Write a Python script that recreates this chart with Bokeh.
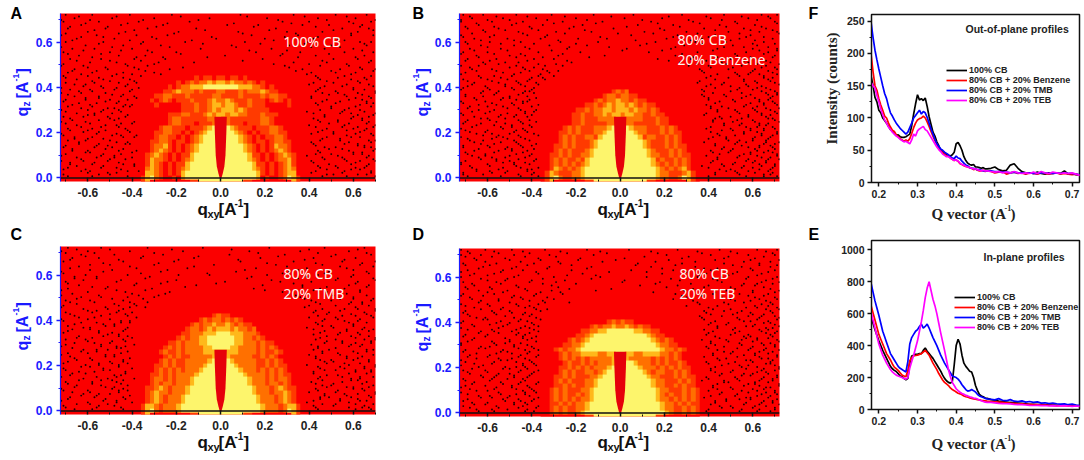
import math
import numpy as np
from bokeh.embed import file_html
from bokeh.layouts import column, row
from bokeh.models import FixedTicker, Label, Legend, LegendItem, LinearColorMapper, Span
from bokeh.plotting import figure
from bokeh.resources import INLINE

# scattering maps: one row per qz (0.46 down to -0.02), cells 0.02 wide, centred on qxy = 0
# . red, o dark orange, O orange, y amber, Y pale yellow
map_a = [
    "",
    "o.oo.oo.oo.o",
    "o.oOoOOyOyyOyOOoOo.o",
    "o.oOOyyyYYYYYYYYyyyOOo.o",
    "ooOyOOOoOoooOOoooOoOOOyOoo",
    ".ooOOoooOoooooOOooooOooooOoOOoo.",
    "..o.oOo.oooOoooOyOOyOoooOooo.oOo.o..",
    "...o.....oooOooOyyOyyOooOooo.....o..",
    ".........oooOooOyOyyyOyOooooo.......",
    "......oooOOoooOyOyyOyyOOoooOooo.....",
    "......oOOooooooOOyOOoooooooOOo......",
    ".....oOOooo.oooOOOOooo.oooOOo.....",
    "....oOOooo.oooOyYYYYyOooo.oooOOo....",
    "...ooOOoo.o.oOyYYYYYYyOo.o.ooOOoo...",
    "...oOOoo.o.oOyYYYYYYYYyOo.o.ooOOo...",
    "..ooOOo.oo.oOyYYYYYYYYyOo.oo.oOOoo..",
    "..oOOyo.o.oOyYYYYYYYYYYyOo.o.oyOOo..",
    "..oOyOo.o.oOyYYYYYYYYYYyOo.o.oOyOo..",
    ".oOyOo.o.ooyYYYYYYYYYYYYyoo.o.oOyOo.",
    ".oyOOo.o.oOyYYYYYYYYYYYYyOo.o.oOOyo.",
    ".oyOo.o.ooyYYYYYYYYYYYYYYyoo.o.oOyo.",
    ".OyOo.o.oOyYYYYYYYYYYYYYYyOo.o.oOyO.",
    ".yyOo.o.oyYYYYYYYYYYYYYYYYyo.o.oOyy.",
    "oyYOo..o.yYYYYYYYYYYYYYYYYy.o..oOYyo",
    "oy.........ooYYYYYYYYYYoo.........yo",
]
map_b = [
    "",
    "",
    "",
    "",
    "oOoO",
    "oOOoOOoo",
    "oOoOOyOOoOoo",
    "ooOoOyOyyOyOoOoo",
    "ooOoOOyyOyyyOyOOoOo",
    "ooOooOOyOyyOyyOOooOoo",
    "ooOoooOOOOyOOOOOoooOoo",
    "ooOoooooOOOOOOoooooOoo",
    ".....oOoOoooOOOyYYYYyOOOoooOoOo.....",
    "....ooOoOoooOOyYYYYYYyOOoooOoOoo....",
    "....oOoOooOOoyYYYYYYYYyoOOooOoOo....",
    "....oOoOoooOyYYYYYYYYYYyOoooOoOo....",
    "...ooOoOoooOyYYYYYYYYYYyOoooOoOoo...",
    "...oOoOoooOyYYYYYYYYYYYYyOoooOoOo...",
    "..ooOoOooOOyYYYYYYYYYYYYyOOooOoOoo..",
    "..oOoOooOoyYYYYYYYYYYYYYYyoOooOoOo..",
    "..oOoOoOoOyYYYYYYYYYYYYYYyOoOoOoOo..",
    "..oyOoOoOyYYYYYYYYYYYYYYYYyOoOoOyo..",
    ".oyOoooOOyYYYYYYYYYYYYYYYYyOOoooOyo.",
    ".oyYOooOOyYYYYYYYYYYYYYYYYyOOooOYyo.",
    ".oy.......ooYYYYYYYYYYYYoo.......yo.",
]
map_c = [
    "",
    "",
    "oOoo",
    "oOoOOoOoOo",
    "oOoOOyOOyOoOoo",
    "oOOoOyOyyyOyOOoO",
    "ooOOOyyyYYYyyyOOOo",
    "oOoOOyyYYYYYYyyOOoOo",
    "ooOoOOOyyYYYYYYyyOOOoOoo",
    "oOoOoOOOOyyYYYYyyOOOOoOoOo",
    "oOooOoOOOOyyyyyyyyOOOOoOooOo",
    ".oOoOooOOOOOyyyyOOOOOooOoOo.",
    "....oOoOooOOOOOyYYYYyOOOOOooOoOo....",
    "...ooOoOooOOOOyYYYYYYyOOOOooOoOoo...",
    "...oOoOoOoOOOyYYYYYYYYyOOOoOoOoOo...",
    "..ooOoOoOOOOyYYYYYYYYYYyOOOOoOoOoo..",
    "..oOOoOoOOOyYYYYYYYYYYYYyOOOoOoOOo..",
    "..oOoOOoOOOyYYYYYYYYYYYYyOOOoOOoOo..",
    ".ooOyOoOOOyYYYYYYYYYYYYYYyOOOoOyOoo.",
    ".oOyOOoOOOyYYYYYYYYYYYYYYyOOOoOOyOo.",
    ".oOyOoOOOyYYYYYYYYYYYYYYYYyOOOoOyOo.",
    ".oOyOoOOOyYYYYYYYYYYYYYYYYyOOOoOyOo.",
    "oyyOoOOOyYYYYYYYYYYYYYYYYYYyOOOoOyyo",
    "oyYOoOOOyYYYYYYYYYYYYYYYYYYyOOOoOYyo",
    "oy.........ooYYYYYYYYYYoo.........yo",
]
map_d = [
    "",
    "",
    "",
    "oOoOoo",
    "oOoOOyOOyOoOoo",
    "ooOOyyYYYYYYyyOOoo",
    "ooOyYYYYYYYYYYYYyOoo",
    "oOoOyYYYYYYYYYYYYYYyOoOo",
    "ooOOyYYYYYYYYYYYYYYYYyOOoo",
    "oOoOOyYYYYYYYYYYYYYYYYYYyOOoOo",
    ".oOoOOyyyyOOyyYYyyOOyyyyOOoOo.",
    "oOoOoOoOOOOOyyyyOOOOOoOoOoOo",
    ".....oOooOoOoOOOyYYYYyOOOoOoOooOo...",
    "....ooOoOoOoOOOyYYYYYYyOOOoOoOoOoo..",
    "....oOoOooOOoOyYYYYYYYYyOoOOooOoOo..",
    "...ooOoOoooOOyYYYYYYYYYYyOOoooOoOoo.",
    "...oOoOoooOOyYYYYYYYYYYYYyOOoooOoOo.",
    "...ooOoOooOOyYYYYYYYYYYYYyOOooOoOoo.",
    "..oOoOoooOOyYYYYYYYYYYYYYYyOOoooOoOo",
    "..oOoOooOoOyYYYYYYYYYYYYYYyOoOooOoOo",
    "..oOoOoOoOOyYYYYYYYYYYYYYYyOOoOoOoOo",
    "..ooOoOoOOyYYYYYYYYYYYYYYYYyOOoOoOoo",
    "..oOoOooOOyYYYYYYYYYYYYYYYYyOOooOoOo",
    "..oOoOooOyYYYYYYYYYYYYYYYYYYyOooOoOo",
    "..........ooYYYYYYYYYYYYYYoo........",
]

# beam stop outline (half width at each qz)
stop_qz = [0.27, 0.2, 0.1, 0.05, 0.02, 0.0]
stop_half = [0.028, 0.026, 0.022, 0.017, 0.01, 0.004]

# black specks, in hundredths of qxy, one row per qz from 0.72 down in steps of 0.015
dots_a = [
    [-70,-58,-41,-22,9,33,52,66],[-66,-49,-30,-5,21,44,61],[-71,-55,-37,-14,28,40,58,68],[-63,-45,-26,3,17,37,49,64],
    [-69,-52,-33,-11,25,55,67],[-60,-43,-19,8,30,46,62],[-72,-56,-38,-24,14,35,59,69],[-65,-48,-29,-2,20,42,53],
    [-70,-53,-35,-16,11,39,63,68],[-61,-44,-27,5,31,50,66],[-67,-57,-40,-9,23,47,60],[-71,-50,-31,-20,16,36,56,69],
    [-64,-46,-34,2,27,43,65],[-68,-54,-39,-25,19,51,62],[-59,-47,-28,-12,33,48,67],[-72,-62,-42,-33,29,45,58],
    [-66,-51,-37,-23,37,54,64,70],[-69,-58,-44,-30,41,52,61],[-71,-60,-49,-36,43,56,68],[-65,-53,-41,45,59,66],
    [-70,-57,-46,-38,42,51,63],[-62,-54,-43,47,55,69],[-68,-59,-48,-40,44,60,65],[-72,-63,-52,46,53,62,70],
    [-66,-55,-45,-39,41,57,67],[-70,-61,-50,-42,48,58,64],[-64,-56,-47,43,52,66,69],[-69,-58,-44,-41,50,61,68],
    [-72,-60,-53,-46,45,56,63],[-65,-57,-49,42,54,59,70],[-71,-62,-51,-43,47,60,67],[-67,-55,-48,44,53,64],
    [-70,-59,-45,-40,49,58,66],[-63,-54,-46,43,55,62,69],[-68,-60,-52,-42,46,57,65],[-72,-56,-47,41,51,61,68],
    [-66,-58,-44,-39,48,59,63],[-69,-61,-50,45,54,67,70],[-64,-55,-43,-41,42,56,62],[-71,-57,-49,47,52,65,68],
    [-67,-60,-46,-38,44,58,69],[-70,-53,-45,43,50,60,64],[-65,-56,-48,-40,46,55,66],[-72,-62,-51,41,57,63,70],
    [-68,-58,-44,-39,49,59,67],[-69,-54,-47,45,53,61,65],[-63,-59,-42,-37,43,56,68],[-71,-55,-50,48,51,62,66],
]
dots_b = [
    [-71,-62,-47,-31,-12,6,28,47,64,71],[-67,-53,-38,-20,2,19,41,58,68],[-72,-58,-44,-26,-8,14,33,52,70],[-64,-49,-35,-17,8,24,45,61],
    [-69,-55,-40,-23,-3,18,38,56,66],[-61,-46,-29,-13,11,30,49,63,71],[-72,-57,-42,-33,5,26,43,59],[-66,-51,-36,-19,-6,21,37,54,69],
    [-70,-59,-45,-27,-10,16,34,48,65],[-63,-48,-32,-15,9,29,51,62],[-68,-54,-41,-24,3,23,44,60,71],[-71,-60,-37,-18,13,35,57,67],
    [-65,-50,-43,-28,-7,25,42,53,70],[-69,-56,-39,-30,17,32,50,63],[-62,-52,-46,-22,27,46,58,68],[-72,-64,-47,-34,-26,31,40,55,66],
    [-67,-58,-43,-35,36,49,61,71],[-70,-53,-45,-32,38,52,59,69],[-64,-57,-49,-37,-30,41,54,65],[-71,-60,-51,-41,-34,43,56,67],
    [-66,-55,-46,-38,35,47,62,70],[-69,-61,-52,-43,39,50,58,64],[-72,-59,-48,-40,37,53,60,68],[-63,-56,-44,-39,42,55,66,71],
    [-70,-62,-50,-42,38,48,57,69],[-65,-54,-47,-41,40,51,63,67],[-71,-58,-49,-44,43,59,65,70],[-68,-60,-53,-40,41,46,56,62],
    [-64,-57,-45,-38,44,52,61,68],[-72,-61,-51,-43,39,54,64,71],[-66,-55,-48,-42,45,50,58,66],[-69,-59,-46,-41,42,53,60,70],
    [-71,-63,-52,-44,47,55,63,67],[-67,-54,-49,-40,41,57,62,69],[-70,-60,-47,-43,46,51,59,65],[-65,-58,-50,-39,44,56,64,71],
    [-72,-56,-53,-45,42,48,61,68],[-68,-62,-48,-41,49,54,60,66],[-63,-57,-46,-38,43,52,65,70],[-71,-59,-51,-44,47,58,63,69],
    [-66,-55,-49,-42,41,50,62,67],[-69,-61,-47,-40,45,56,59,71],[-64,-58,-52,-43,44,53,64,68],[-70,-56,-50,-39,42,57,61,66],
    [-72,-60,-48,-41,46,51,63,70],[-67,-53,-45,-37,40,55,60,69],[-65,-59,-51,-42,48,52,58,67],[-71,-62,-46,-40,43,54,65,68],
]
dots_c = [
    [-69,-54,-33,-8,22,47,65],[-72,-60,-41,-17,13,36,58],[-63,-48,-26,4,29,52,68],[-67,-55,-36,-12,18,42,61],
    [-71,-44,-21,9,33,55,70],[-59,-50,-30,-3,25,46,63],[-68,-38,-15,16,39,57],[-72,-53,-27,7,31,49,66],
    [-61,-42,-19,-5,21,44,60],[-66,-56,-34,12,35,53,69],[-70,-47,-24,2,27,41,62],[-64,-39,-11,19,37,58,67],
    [-69,-52,-31,15,45,56,71],[-60,-43,-23,28,48,63],[-72,-55,-37,-28,34,51,66],[-65,-49,-35,38,54,60,69],
    [-68,-57,-41,-33,43,59,64],[-71,-46,-38,40,52,67],[-62,-51,-44,46,56,62,70],[-70,-58,-47,-40,42,49,65],
    [-66,-54,-42,44,55,61,68],[-72,-60,-50,47,53,63],[-63,-56,-45,-41,43,58,66],[-69,-52,-48,46,50,60,71],
    [-67,-59,-43,42,57,64,69],[-71,-55,-49,45,54,62],[-64,-53,-46,-42,48,59,67],[-70,-61,-44,43,52,65,70],
    [-66,-57,-50,47,55,61,68],[-72,-54,-47,-43,44,58,63],[-62,-56,-51,42,49,66,69],[-69,-60,-45,46,53,62],
    [-68,-52,-48,43,57,64,71],[-65,-58,-44,45,50,60,67],[-71,-55,-49,-42,48,56,63],[-63,-59,-46,44,54,65,70],
    [-70,-53,-50,47,52,61,68],[-67,-61,-43,42,58,66],[-72,-56,-47,45,55,63,69],[-64,-54,-49,-44,46,59,62],
    [-69,-58,-45,43,51,64,71],[-66,-52,-48,48,57,60,67],[-71,-60,-46,-42,44,53,65],[-62,-55,-50,47,56,62,70],
    [-68,-57,-44,45,49,59,68],[-72,-53,-47,42,54,63,66],[-65,-59,-51,46,52,61,69],[-70,-56,-45,43,58,64,67],
]
dots_d = [
    [-72,-61,-49,-34,-15,4,26,45,62,71],[-68,-55,-41,-24,-6,17,37,53,69],[-70,-58,-43,-29,11,31,49,65],[-65,-50,-36,-19,-2,22,43,59,72],
    [-71,-56,-39,-27,8,28,47,63],[-62,-47,-32,-13,14,34,55,68],[-69,-53,-44,-22,5,24,41,60,70],[-66,-57,-37,-17,19,39,51,64],
    [-72,-48,-30,-9,12,35,46,58,71],[-60,-52,-40,-25,2,27,44,66],[-67,-54,-35,-20,16,32,56,62,69],[-70,-59,-46,-28,21,38,50,65],
    [-64,-51,-42,-31,-11,29,48,60,72],[-71,-57,-38,-26,25,42,54,67],[-68,-49,-45,-33,30,46,61,70],[-63,-55,-41,-35,33,52,59,66],
    [-72,-60,-47,-37,36,49,64,69],[-66,-53,-43,-39,40,57,62,71],[-70,-58,-50,-36,38,47,55,68],[-69,-56,-44,-40,41,51,60,65],
    [-65,-61,-48,-38,37,53,63,72],[-71,-54,-46,-42,43,56,59,67],[-67,-59,-51,-39,40,48,61,70],[-72,-55,-45,-41,44,52,66,69],
    [-63,-57,-49,-37,42,54,64,71],[-70,-60,-47,-43,39,50,58,68],[-66,-52,-44,-40,45,57,62,67],[-69,-58,-50,-38,41,49,60,72],
    [-72,-56,-48,-42,43,55,65,70],[-64,-61,-46,-39,40,53,59,66],[-71,-54,-51,-41,47,51,63,69],[-68,-59,-45,-37,42,56,61,71],
    [-65,-55,-49,-43,44,48,64,67],[-70,-57,-47,-40,39,52,60,68],[-72,-62,-44,-38,46,54,58,70],[-67,-53,-50,-42,41,57,65,72],
    [-69,-60,-46,-39,43,50,62,66],[-63,-56,-48,-41,45,55,59,71],[-71,-58,-51,-44,40,53,64,69],[-66,-54,-45,-37,47,49,61,67],
    [-70,-61,-49,-42,42,56,63,72],[-68,-57,-47,-40,44,51,60,65],[-72,-55,-43,-38,46,58,66,70],[-64,-59,-50,-41,41,52,62,68],
    [-69,-53,-46,-39,48,54,59,71],[-67,-60,-48,-43,43,57,64,69],[-71,-56,-44,-37,45,50,61,66],[-65,-58,-51,-42,40,55,63,70],
]

# second pass of specks, rows half a step lower
dots2_a = [
    [-64,-47,-18,12,38,57],[-72,-59,-35,-10,26,48,70],[-61,-42,-24,6,32,60],[-68,-51,-29,15,43,63],
    [-57,-39,-7,22,51,69],[-70,-46,-21,10,34,59],[-63,-53,-31,-4,29,44],[-67,-41,-13,24,56,71],
    [-55,-36,-8,18,38,65],[-72,-49,-23,7,41,54],[-62,-45,-33,13,30,64],[-69,-54,-18,28,49,71],
    [-58,-38,-26,-6,35,61],[-65,-50,-36,10,46,68],[-71,-43,-30,24,40,57],[-60,-52,-39,-17,31,63],
    [-67,-56,-34,34,50,69],[-63,-47,-40,-27,39,59],[-70,-55,-44,44,53,65],[-58,-50,-39,48,62,71],
    [-66,-61,-42,40,57,67],[-72,-53,-47,-37,45,60],[-64,-58,-41,43,52,70],[-69,-49,-44,49,56,64],
    [-61,-55,-38,41,61,68],[-71,-46,-52,46,54,66],[-67,-59,-43,-40,44,63],[-63,-51,-48,50,58,71],
    [-70,-54,-45,39,55,65],[-60,-57,-42,47,62,69],[-68,-50,-46,42,59,64],[-72,-61,-39,45,53,67],
    [-65,-52,-47,40,56,70],[-69,-58,-43,48,60,66],[-62,-55,-41,44,51,63],[-71,-49,-45,-38,57,69],
    [-66,-60,-53,46,54,71],[-64,-47,-42,41,58,68],[-70,-56,-51,43,62,65],[-67,-52,-44,49,55,70],
    [-61,-59,-40,45,60,64],[-72,-54,-48,39,53,67],[-63,-50,-43,47,56,69],[-68,-57,-46,42,61,71],
    [-65,-53,-39,44,52,66],[-71,-61,-45,48,59,63],[-60,-51,-47,41,55,68],[-69,-58,-42,46,57,70],
]
dots2_b = [
    [-68,-56,-42,-25,-4,22,39,55,67],[-72,-60,-50,-33,-15,10,31,46,62],[-65,-47,-30,-11,17,36,53,71],[-70,-57,-41,-21,3,27,48,64],
    [-62,-52,-37,-16,20,43,59,69],[-67,-44,-25,-1,15,35,54,72],[-71,-59,-34,-9,24,40,57,65],[-63,-48,-28,7,32,50,61],
    [-69,-54,-39,-20,12,37,60,70],[-60,-43,-23,-5,25,47,56,67],[-66,-51,-31,1,19,42,63,71],[-72,-57,-45,-26,28,52,65],
    [-64,-47,-35,-14,33,44,59,69],[-70,-59,-42,-24,22,39,56,66],[-61,-55,-37,-29,35,48,62,72],[-68,-50,-44,-39,41,51,64,70],
    [-65,-56,-41,-33,-28,37,60,67],[-72,-48,-36,44,53,58,63,71],[-63,-54,-40,-35,39,49,65,69],[-69,-58,-47,-42,36,56,61,68],
    [-67,-52,-45,-37,41,46,57,72],[-71,-60,-49,-39,43,54,62,66],[-62,-55,-43,-41,38,50,64,70],[-70,-57,-46,37,47,59,67,71],
    [-66,-53,-50,-38,40,55,61,68],[-72,-61,-44,-42,45,52,63,69],[-64,-56,-48,-37,39,57,65,71],[-69,-51,-46,41,49,60,66,72],
    [-67,-59,-43,-39,44,53,62,70],[-71,-54,-47,-40,38,58,64,68],[-63,-60,-52,43,46,55,67,69],[-70,-56,-45,-38,42,51,61,72],
    [-65,-57,-49,-41,47,54,63,66],[-72,-53,-44,39,50,59,65,70],[-68,-61,-48,-42,41,56,62,71],[-62,-55,-46,-37,45,52,64,69],
    [-69,-58,-51,-43,40,48,60,67],[-66,-54,-47,38,53,57,66,72],[-71,-60,-45,-40,43,55,63,68],[-64,-52,-49,-39,46,51,61,70],
    [-70,-57,-44,42,49,59,65,69],[-67,-61,-50,-41,39,54,62,71],[-63,-56,-46,-38,44,58,67,72],[-72,-53,-48,-43,41,52,60,66],
    [-68,-59,-47,37,47,56,64,70],[-65,-55,-42,-40,45,50,63,68],[-71,-58,-52,-39,43,53,61,69],[-69,-54,-45,-37,40,57,65,71],
]
dots2_c = [
    [-65,-50,-22,5,40,62],[-70,-57,-30,17,44,66],[-61,-35,-10,26,50,71],[-68,-46,-19,8,38,56],
    [-73,-53,-28,21,43,64],[-64,-41,-12,30,54,69],[-59,-49,-24,11,35,60],[-71,-36,-6,28,47,67],
    [-66,-56,-32,14,39,59],[-62,-45,-20,23,52,70],[-69,-38,-27,-2,33,61],[-58,-51,-16,37,48,66],
    [-72,-47,-34,20,42,63],[-67,-40,-25,31,57,71],[-63,-54,-42,-30,36,60],[-70,-59,-44,41,50,68],
    [-65,-48,-39,45,58,64],[-72,-52,-41,-34,38,61],[-60,-56,-46,43,54,70],[-68,-50,-43,48,59,66],
    [-64,-57,-38,40,52,69],[-71,-45,-41,46,56,62],[-66,-53,-48,44,60,71],[-62,-59,-42,39,51,65],
    [-69,-55,-44,47,57,67],[-73,-51,-46,42,53,63],[-65,-58,-40,45,61,70],[-60,-49,-43,48,55,68],
    [-70,-54,-39,41,59,64],[-67,-47,-45,44,52,71],[-63,-56,-42,46,60,66],[-72,-52,-48,40,54,69],
    [-66,-59,-41,43,57,62],[-69,-50,-44,47,51,67],[-61,-55,-46,39,58,70],[-71,-53,-40,45,56,65],
    [-64,-57,-43,42,61,68],[-68,-48,-45,48,53,71],[-62,-51,-39,44,59,63],[-70,-58,-47,41,55,66],
    [-65,-54,-42,46,50,69],[-72,-49,-44,43,60,64],[-67,-59,-46,40,52,70],[-63,-56,-41,47,57,67],
    [-69,-52,-43,45,54,62],[-60,-47,-40,39,58,71],[-71,-55,-48,42,51,65],[-66,-58,-44,44,61,68],
]
dots2_d = [
    [-69,-57,-44,-27,-9,14,35,50,66],[-72,-63,-48,-32,-12,21,41,58,70],[-66,-52,-37,-18,2,28,47,61],[-61,-45,-28,-8,16,34,56,68],
    [-70,-59,-42,-22,7,25,51,63,71],[-64,-49,-33,-15,19,38,44,59],[-72,-54,-38,-5,12,30,53,67],[-68,-60,-46,-24,-11,36,49,62],
    [-63,-51,-35,-13,23,42,57,69],[-71,-56,-41,-29,1,18,46,64,72],[-66,-47,-31,9,26,40,55,61],[-69,-58,-43,-23,-4,33,52,68],
    [-60,-53,-36,-27,15,43,60,70],[-72,-62,-48,-39,28,37,58,65],[-67,-55,-44,-30,24,50,63,71],[-64,-50,-34,-23,35,47,56,68],
    [-70,-59,-46,-41,30,44,61,67],[-63,-54,-38,-33,42,50,66,72],[-71,-57,-49,-43,39,53,59,69],[-68,-52,-41,36,46,58,64,70],
    [-62,-60,-45,-36,38,54,62,71],[-72,-56,-50,-40,41,49,65,68],[-66,-53,-43,-37,44,57,60,72],[-69,-58,-47,-39,38,51,63,67],
    [-64,-55,-46,-41,40,52,66,70],[-71,-61,-44,-38,43,56,59,69],[-67,-50,-42,37,48,55,62,71],[-72,-57,-52,-45,41,54,64,68],
    [-63,-59,-48,-40,39,47,60,70],[-70,-53,-43,-37,44,58,65,72],[-65,-56,-49,-42,42,50,61,67],[-69,-60,-46,-38,38,53,63,71],
    [-72,-54,-51,-41,45,57,59,69],[-66,-58,-44,-39,40,49,66,68],[-64,-52,-47,-43,43,55,62,72],[-71,-61,-45,-37,41,51,64,70],
    [-68,-55,-50,-40,46,56,60,67],[-62,-57,-48,-42,39,52,65,71],[-70,-59,-43,37,47,54,63,69],[-67,-53,-46,-38,44,58,61,72],
    [-72,-56,-49,-41,42,50,66,68],[-65,-60,-44,-39,40,55,62,70],[-69,-54,-47,-43,45,53,64,71],[-63,-58,-51,-37,38,57,59,67],
    [-71,-52,-45,-40,43,48,65,69],[-66,-61,-48,-42,41,56,63,72],[-68,-55,-46,-38,46,51,60,70],[-64,-57,-43,-39,39,54,62,68],
]

qz_ticks = [0, 0.2, 0.4, 0.6]
qz_minor = [0.1, 0.3, 0.5, 0.7]
qxy_ticks = [-0.6, -0.4, -0.2, 0, 0.2, 0.4, 0.6]
qxy_minor = [-0.7, -0.5, -0.3, -0.1, 0.1, 0.3, 0.5, 0.7]

# line profiles
q_vec = [
    0.18, 0.185, 0.19, 0.195, 0.2, 0.205, 0.21, 0.215, 0.22, 0.225,
    0.23, 0.235, 0.24, 0.245, 0.25, 0.255, 0.26, 0.265, 0.27, 0.275,
    0.28, 0.285, 0.29, 0.295, 0.3, 0.305, 0.31, 0.315, 0.32, 0.325,
    0.33, 0.335, 0.34, 0.345, 0.35, 0.355, 0.36, 0.365, 0.37, 0.375,
    0.38, 0.385, 0.39, 0.395, 0.4, 0.405, 0.41, 0.415, 0.42, 0.425,
    0.43, 0.435, 0.44, 0.445, 0.45, 0.455, 0.46, 0.465, 0.47, 0.475,
    0.48, 0.49, 0.5, 0.51, 0.52, 0.53, 0.54, 0.55, 0.56, 0.57,
    0.58, 0.59, 0.6, 0.61, 0.62, 0.63, 0.64, 0.65, 0.66, 0.67,
    0.68, 0.69, 0.7, 0.71, 0.72,
]
series_names = ["100% CB", "80% CB + 20% Benzene", "80% CB + 20% TMB", "80% CB + 20% TEB"]
series_colors = ["#000000", "#ff0000", "#0000ff", "#ff00ff"]

oop_cb = [
    165, 150, 132, 125, 112, 108, 100, 96, 92, 87,
    82, 80, 76, 73, 74, 71, 70, 70, 71, 73,
    75, 88, 106, 122, 136, 128, 130, 127, 131, 118,
    102, 90, 78, 72, 63, 57, 50, 48, 45, 44,
    42, 41, 43, 47, 60, 62, 57, 50, 40, 34,
    30, 28, 27, 28, 24, 24, 23, 22, 23, 21,
    21, 22, 24, 20, 18, 19, 27, 29, 22, 17,
    15, 15, 14, 16, 14, 13, 15, 14, 15, 14,
    18, 13, 14, 12, 11,
]
oop_benzene = [
    198, 172, 150, 143, 130, 120, 112, 103, 100, 92,
    86, 81, 79, 74, 71, 68, 66, 64, 66, 64,
    68, 76, 85, 92, 97, 99, 100, 103, 100, 94,
    87, 79, 72, 65, 59, 54, 50, 46, 44, 41,
    41, 38, 36, 34, 35, 33, 29, 28, 26, 25,
    24, 23, 22, 20, 21, 19, 18, 18, 19, 17,
    18, 17, 15, 16, 17, 13, 15, 16, 14, 15,
    13, 15, 14, 13, 15, 14, 13, 14, 15, 13,
    14, 13, 12, 13, 11,
]
oop_tmb = [
    248, 225, 205, 190, 176, 163, 150, 138, 130, 118,
    108, 103, 97, 92, 88, 84, 81, 78, 75, 78,
    85, 92, 100, 104, 108, 112, 106, 110, 108, 101,
    92, 83, 75, 67, 60, 56, 52, 50, 47, 45,
    43, 40, 38, 37, 41, 38, 37, 33, 30, 27,
    26, 23, 22, 22, 21, 20, 20, 19, 18, 18,
    18, 18, 17, 17, 16, 16, 15, 16, 15, 15,
    14, 15, 14, 14, 15, 15, 14, 14, 15, 14,
    15, 14, 14, 13, 12,
]
oop_teb = [
    155, 150, 146, 135, 125, 114, 105, 97, 92, 86,
    82, 78, 75, 72, 70, 67, 65, 63, 64, 62,
    60, 66, 75, 72, 80, 83, 85, 87, 82, 80,
    75, 70, 65, 60, 55, 51, 48, 44, 42, 40,
    40, 38, 36, 34, 35, 33, 30, 28, 27, 25,
    24, 23, 22, 21, 21, 20, 19, 18, 19, 18,
    18, 17, 16, 17, 15, 16, 15, 17, 15, 14,
    15, 14, 16, 14, 17, 15, 14, 16, 15, 14,
    15, 14, 15, 13, 11,
]
ip_cb = [
    590, 540, 500, 465, 430, 400, 370, 345, 320, 295,
    270, 255, 245, 238, 225, 210, 205, 195, 185, 195,
    290, 335, 340, 345, 345, 350, 350, 370, 385, 365,
    350, 335, 320, 300, 280, 260, 240, 215, 195, 180,
    170, 165, 175, 280, 400, 440, 410, 340, 290, 270,
    255, 240, 235, 200, 150, 120, 95, 85, 80, 72,
    70, 62, 58, 52, 50, 47, 44, 42, 40, 38,
    36, 33, 32, 31, 30, 30, 28, 27, 26, 27,
    30, 26, 24, 25, 22,
]
ip_benzene = [
    650, 605, 560, 515, 470, 440, 410, 380, 350, 330,
    310, 285, 265, 255, 245, 230, 215, 210, 205, 245,
    305, 325, 335, 338, 340, 345, 350, 360, 370, 355,
    340, 315, 290, 270, 250, 225, 205, 185, 170, 160,
    150, 135, 125, 118, 110, 102, 98, 92, 85, 80,
    78, 72, 70, 66, 65, 62, 60, 57, 56, 54,
    52, 50, 48, 46, 44, 42, 40, 39, 36, 35,
    33, 32, 30, 30, 28, 28, 27, 26, 24, 25,
    24, 23, 22, 22, 20,
]
ip_tmb = [
    790, 735, 680, 635, 590, 540, 490, 455, 420, 385,
    350, 330, 310, 290, 270, 258, 250, 242, 235, 300,
    410, 450, 470, 490, 500, 520, 535, 510, 520, 535,
    510, 480, 450, 425, 400, 370, 340, 315, 290, 270,
    250, 230, 210, 205, 200, 190, 175, 155, 140, 125,
    115, 118, 125, 118, 110, 95, 85, 80, 75, 70,
    66, 64, 60, 68, 58, 55, 62, 52, 50, 54,
    46, 50, 45, 48, 40, 42, 37, 40, 36, 34,
    35, 30, 34, 28, 26,
]
ip_teb = [
    610, 560, 510, 460, 410, 375, 340, 315, 290, 270,
    250, 235, 225, 215, 210, 205, 200, 195, 190, 200,
    260, 300, 340, 385, 430, 490, 550, 620, 700, 760,
    800, 745, 690, 650, 600, 540, 480, 425, 370, 310,
    250, 205, 170, 150, 130, 118, 108, 100, 95, 88,
    85, 80, 76, 72, 70, 66, 60, 55, 50, 46,
    45, 44, 42, 38, 37, 36, 35, 32, 30, 30,
    28, 26, 25, 26, 24, 25, 22, 24, 22, 23,
    24, 22, 20, 22, 19,
]

SANS = "Liberation Sans"
SERIF = "Liberation Serif"
BLUE = "#1a1aff"
MAP_COLORS = ["#fb0000", "#ff3a00", "#ff7000", "#ffb81a", "#fdf56c"]
CELLS = {".": 0, "o": 1, "O": 2, "y": 3, "Y": 4}
PAGE_W = 1084
PAGE_H = 458


def map_panel(rows, dots, dots2, width, height, borders, x_range):
    left, top, right, bottom = borders
    p = figure(width=width, height=height, x_range=x_range, y_range=(-0.016, 0.726), toolbar_location=None,
               output_backend="svg", min_border_left=left, min_border_top=top, min_border_right=right,
               min_border_bottom=bottom, background_fill_color=MAP_COLORS[0])
    p.grid.visible = False
    p.outline_line_color = None

    grid = np.array([[CELLS[c] for c in r.center(36, ".")[:36]] for r in rows][::-1])
    mapper = LinearColorMapper(palette=MAP_COLORS, low=0, high=5)
    p.image(image=[grid], x=-0.36, y=-0.03, dw=0.72, dh=0.5, color_mapper=mapper)

    half = np.array(stop_half)
    p.harea(x1=-half, x2=half, y=stop_qz, color="#e6000a")

    dot_x = [x / 100 for r in dots for x in r] + [x / 100 for r in dots2 for x in r]
    dot_z = [0.72 - 0.015 * i for i, r in enumerate(dots) for x in r] + [0.7125 - 0.015 * i for i, r in enumerate(dots2) for x in r]
    p.scatter(dot_x, dot_z, size=1.9, color="#1a0000", line_width=0)
    p.add_layout(Span(location=0, dimension="width", line_color="#111111", line_width=1.5))

    ax = p.xaxis[0]
    ax.ticker = FixedTicker(ticks=qxy_ticks, minor_ticks=qxy_minor)
    ax.major_label_overrides = {t: f"{t:.1f}" for t in qxy_ticks}
    ax.axis_line_color = None
    ax.major_tick_in = 4
    ax.major_tick_out = 0
    ax.minor_tick_in = 2
    ax.minor_tick_out = 0
    ax.major_tick_line_color = "#111111"
    ax.major_tick_line_width = 1.5
    ax.minor_tick_line_color = "#111111"
    ax.major_label_text_font = SANS
    ax.major_label_text_font_style = "bold"
    ax.major_label_text_font_size = "12px"
    ax.major_label_text_color = "#222222"
    ax.major_label_standoff = 6

    ay = p.yaxis[0]
    ay.ticker = FixedTicker(ticks=qz_ticks, minor_ticks=qz_minor)
    ay.major_label_overrides = {t: f"{t:.1f}" for t in qz_ticks}
    ay.axis_line_color = BLUE
    ay.axis_line_width = 1.2
    ay.major_tick_line_color = BLUE
    ay.major_tick_line_width = 1.5
    ay.minor_tick_line_color = BLUE
    ay.major_tick_in = 0
    ay.major_tick_out = 4
    ay.minor_tick_in = 0
    ay.minor_tick_out = 2
    ay.major_label_text_font = SANS
    ay.major_label_text_font_style = "bold"
    ay.major_label_text_font_size = "12px"
    ay.major_label_text_color = BLUE
    ay.major_label_standoff = 4
    return p


def profile_panel(values, height, borders, y_end, y_ticks, y_minor, legend_pos):
    left, top, right, bottom = borders
    p = figure(width=278, height=height, x_range=(0.181, 0.719), y_range=(0, y_end), toolbar_location=None,
               output_backend="svg", min_border_left=left, min_border_top=top, min_border_right=right,
               min_border_bottom=bottom, background_fill_color="white")
    p.grid.visible = False
    p.outline_line_color = "#111111"
    p.outline_line_width = 1.5

    items = []
    for name, col, ys in zip(series_names, series_colors, values):
        r = p.line(q_vec, ys, line_color=col, line_width=1.7)
        items.append(LegendItem(label=name, renderers=[r]))
    legend = Legend(items=items, location=legend_pos, background_fill_alpha=0, border_line_color=None, padding=0,
                    margin=0, spacing=0, glyph_width=21, glyph_height=10, label_standoff=2, label_height=10,
                    label_text_font=SANS, label_text_font_style="bold", label_text_font_size="9px",
                    label_text_color="#222222")
    p.add_layout(legend)

    ax = p.xaxis[0]
    ax.ticker = FixedTicker(ticks=[0.2, 0.3, 0.4, 0.5, 0.6, 0.7], minor_ticks=[0.25, 0.35, 0.45, 0.55, 0.65])
    ay = p.yaxis[0]
    ay.ticker = FixedTicker(ticks=y_ticks, minor_ticks=y_minor)
    for a in (ax, ay):
        a.axis_line_color = "#111111"
        a.major_tick_line_color = "#111111"
        a.major_tick_line_width = 1.5
        a.minor_tick_line_color = "#111111"
        a.major_tick_in = 0
        a.major_tick_out = 4
        a.minor_tick_in = 0
        a.minor_tick_out = 2
        a.major_label_text_font = SANS
        a.major_label_text_font_style = "bold"
        a.major_label_text_font_size = "10.5px"
        a.major_label_text_color = "#222222"
        a.major_label_standoff = 3
    return p


# labels outside a frame get clipped, so all free text lives on one see-through figure over the page
overlay = figure(width=PAGE_W, height=PAGE_H, x_range=(0, PAGE_W), y_range=(PAGE_H, 0), x_axis_type=None, y_axis_type=None,
                 toolbar_location=None, output_backend="svg", min_border=0, background_fill_color=None,
                 border_fill_color=None, outline_line_color=None, margin=(-PAGE_H, 0, 0, 0))
overlay.grid.visible = False


def page_text(text, px, py, size, color="#111111", angle=0, font=SANS, style="bold"):
    overlay.add_layout(Label(x=px, y=py - 4, text=text, text_font=font, text_font_style=style, text_font_size=f"{size}px",
                             text_color=color, angle=angle, text_baseline="alphabetic", text_align="left"))


def map_text(letter, letter_x, letter_y, notes, note_x, note_y, q_x, q_y, z_x, z_y):
    page_text(letter, letter_x, letter_y, 16, "#000000")
    for i, note in enumerate(notes):
        page_text(note, note_x, note_y + 20 * i, 14, "#fff4ee", font="Noto Sans", style="normal")
    page_text("q", q_x, q_y, 17)
    page_text("xy", q_x + 10, q_y + 4, 11)
    page_text("[A", q_x + 21, q_y, 17)
    page_text("-1", q_x + 37, q_y - 7, 10)
    page_text("]", q_x + 46, q_y, 17)
    rot = math.pi / 2
    page_text("q", z_x, z_y, 16, BLUE, angle=rot)
    page_text("z", z_x + 4, z_y - 10, 10, BLUE, angle=rot)
    page_text("[A", z_x, z_y - 18, 16, BLUE, angle=rot)
    page_text("-1", z_x - 7, z_y - 35, 9, BLUE, angle=rot)
    page_text("]", z_x, z_y - 43, 16, BLUE, angle=rot)


def profile_text(letter, letter_y, heading, heading_x, heading_y, label_y):
    page_text(letter, 808, letter_y, 16, "#000000")
    page_text(heading, heading_x, heading_y, 10.5, "#222222")
    page_text("Q vector (A", 931, label_y, 15, "#222222", font=SERIF)
    page_text("-1", 1004, label_y - 6, 8, "#222222", font=SERIF)
    page_text(")", 1010, label_y, 15, "#222222", font=SERIF)


panel_a = map_panel(map_a, dots_a, dots2_a, 400, 226, (60, 13, 25, 45), (-0.7235, 0.70))
panel_c = map_panel(map_c, dots_c, dots2_c, 400, 232, (60, 20, 25, 44), (-0.7235, 0.70))
panel_b = map_panel(map_b, dots_b, dots2_b, 406, 226, (59, 13, 27, 45), (-0.727, 0.721))
panel_d = map_panel(map_d, dots_d, dots2_d, 406, 232, (59, 22, 27, 42), (-0.727, 0.721))
panel_f = profile_panel([oop_cb, oop_benzene, oop_tmb, oop_teb], 226, (65, 14, 5, 44), 260.4,
                        [0, 50, 100, 150, 200, 250], [25, 75, 125, 175, 225], (75, 77))
panel_e = profile_panel([ip_cb, ip_benzene, ip_tmb, ip_teb], 232, (65, 14, 5, 49), 1058,
                        [0, 200, 400, 600, 800, 1000], [100, 300, 500, 700, 900], (83, 77))

map_text("A", 10, 17, ["100% CB"], 283, 45, 197, 213, 22, 120)
map_text("B", 412, 17, ["80% CB", "20% Benzene"], 677, 43, 597, 213, 422, 120)
map_text("C", 10, 238, ["80% CB", "20% TMB"], 283, 277, 197, 446, 22, 354)
map_text("D", 412, 238, ["80% CB", "20% TEB"], 679, 277, 597, 446, 422, 355)
profile_text("F", 17, "Out-of-plane profiles", 965, 32, 217)
profile_text("E", 238, "In-plane profiles", 983, 260, 447)
page_text("Intensity (counts)", 831, 148, 15, "#222222", angle=math.pi / 2, font=SERIF)

panels = row(column(panel_a, panel_c, spacing=0), column(panel_b, panel_d, spacing=0), column(panel_f, panel_e, spacing=0), spacing=0)
open("out.html", "w").write(file_html(column(panels, overlay, spacing=0), INLINE))
